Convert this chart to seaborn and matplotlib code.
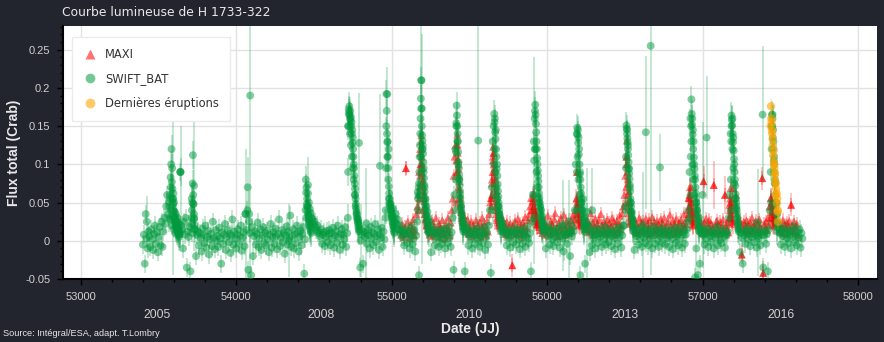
import numpy as np
import pandas as pd
import matplotlib
matplotlib.use("Agg")
import matplotlib.pyplot as plt
import seaborn as sns
from matplotlib.lines import Line2D
from matplotlib.ticker import MultipleLocator, FuncFormatter

# ---------------------------------------------------------------- data
# fluxes in mCrab (1 Crab = 1000 mCrab), dates in MJD
CADENCE = 6          # days between two monitoring samples
OB_STEP = 2          # days between two samples during an outburst

swift_base_start = 53400
swift_base_mcrab = [
    -5, 8, -30, 35, 3, -10, 12, 6, -8, 15, 2, -12, 9, 20, -4, 11, -15, 5, 18, -6,
    25, -8, 12, 30, 22, 45, 60, 35, 50, 28, 40, 20, 32, 15, 25, 10, 18, 30, 12, 22,
    90, 20, 15, -10, 25, 8, 30, -35, 12, 5, 18, -40, 22, 10, 48, 30, 15, -20, 8, 12,
    -6, 10, 4, -14, 16, 7, -3, 20, -9, 5, 13, -18, 2, 9, -7, 25, 4, -11, 14, 0,
    6, -8, 17, 3, -30, 11, -4, 8, 22, -12, 5, 14, -2, 9, -16, 7, 28, -5, 12, 3,
    -10, 8, 15, -4, 6, 20, -13, 4, 11, -7, 35, 14, 40, -38, 25, 10, -45, 18, -20, 6,
    12, -5, 9, 24, -8, 3, 15, -12, 7, 18, -3, 10, -6, 13, 2, -15, 8, 22, -9, 5,
    11, -4, 16, 6, -11, 9, 28, -7, 4, 14, -2, 10, -17, 7, 19, -5, 12, 3, 33, -8,
    6, 15, -10, 8, -3, 20, 11, -14, 5, 13, -6, 9, 18, -43, 2, 30, 45, 62, 50, 42,
    36, 30, 28, 22, 25, 18, 14, 20, 10, 12, 6, 15, -4, 8, 11, -7, 5, 13, -2, 9,
    14, -6, 10, 3, 17, -9, 7, 12, -3, 20, 5, -12, 9, 15, -5, 8, 2, 18, -8, 10,
    150, 165, 140, 125, 110, 95, 80, 60, 45, 35, 30, 25, 20, -35, 15, 8, -30, 12, 5, 10,
    -4, 14, 7, -10, 18, 3, 11, -6, 9, 22, -2, 6, 15, -12, 8, 4, 17, -8, 12, 2,
    30, 150, 110, 80, 55, 48, 40, 35, 42, 30, 25, 35, 22, 28, 15, 20, 10, 14, 5, 12,
    -6, 9, 15, -3, 8, 12, -10, 6, 18, -5, 3, 14, -14, 7, 25, 40, -45, 60, 110, 150,
    120, 90, 70, 55, 45, 38, 30, 25, 20, -15, 12, 8, 15, -6, 10, 3, 12, -8, 6, 14,
    -4, 9, 2, 16, -10, 7, 12, -3, 18, 5, -8, 11, 30, -38, 60, 120, 150, 130, 100, 80,
    60, 45, 35, 28, 22, -40, 15, 10, 18, -6, 8, 12, 3, -10, 9, 14, -4, 7, 16, 2,
    10, -8, 6, 13, -3, 9, 18, -12, 5, 11, -5, 20, 40, -42, 70, 130, 150, 120, 90, 70,
    55, 45, 35, 30, 25, 18, 22, 12, 15, 8, -6, 10, 4, 14, -9, 7, 12, -2, 9, 16,
    -5, 8, 13, 2, -11, 9, 15, -4, 7, 11, -8, 6, 18, 3, -3, 10, -40, 25, 60, 130,
    160, 120, 90, 70, 55, 50, 45, 40, 32, 25, 20, 15, -10, 12, 6, 18, -5, 9, 14, 2,
    -7, 11, 5, 16, -2, 8, 13, -9, 6, 20, 3, -14, 10, 7, 15, -4, 9, 25, -20, 12,
    6, 18, 12, 40, 100, 140, 110, 80, 60, -45, 50, 40, 55, 30, -30, 25, 38, 20, 12, -15,
    15, -6, 8, 3, 12, -10, 7, 16, -3, 9, 5, 13, -8, 10, 2, 18, -5, 7, 11, -2,
    9, 14, -7, 6, 12, 3, -11, 8, 17, -4, 10, 5, 15, -9, 7, 20, 20, 45, 110, 145,
    125, 95, 70, 50, 38, 28, 20, -12, 10, 6, 14, -5, 9, 2, 16, -8, 11, 4, 13, -3,
    8, 15, -6, 10, 3, 12, -10, 7, 18, -4, 9, 14, 1, -8, 11, 6, 16, -3, 8, 12,
    -5, 10, 4, 15, -8, 7, 12, 2, -11, 9, 17, -3, 6, 13, -6, 10, 3, 18, -9, 8,
    12, -4, 8, 15, 25, 40, 90, 160, 130, 100, 80, 60, -48, 50, 40, -45, 30, -30, 15, 10,
    8, 14, -5, 9, 3, 16, -8, 11, 6, -2, 13, 7, -10, 10, 4, 18, -6, 9, 12, 1,
    -3, 10, 15, 5, -9, 8, 8, 12, 30, 60, 140, 150, 120, 95, 75, 55, 42, 30, 22, 15,
    -15, 10, 4, -30, 13, 7, -4, 11, 16, 2, 9, -7, 12, 5, 15, -2, 8, 14, -9, 6,
    3, 10, -6, 14, 8, -35, 7, 12, -4, 9, -40, 15, 40, 90, 150, 165, 130, 100, 75, 50,
    35, 22, 15, 10, -5, 12, 6, 16, -8, 9, 3, 14, -3, 11, 7, -10, 13, 5, 18, -2,
    8, -6, 12, 4, 15, -9, 10, 3,
]

maxi_base_start = 55056
maxi_base_mcrab = [
    15, 8, 22, 12, 5, 18, 95, 10, 25, 14, 3, 20, 9, 16, 28, 7, 13, 35, 45, 60,
    90, 120, 100, 75, 55, 42, 35, 28, 20, 15, 24, 8, 17, 11, 26, 6, 19, 13, 30, 10,
    14, 22, 5, 18, 12, 27, 9, 16, 3, 21, 11, 30, 15, 7, 24, 40, 55, 85, 110, 125,
    105, 90, 70, 55, 45, 38, 30, 25, 33, 18, 22, 12, 28, 9, 17, 14, 25, 6, 20, 11,
    16, 27, 8, 19, 13, 24, 5, 18, 30, 10, 21, 14, 7, 26, 12, 35, 50, 56, 80, 105,
    115, 95, 80, 65, 50, 40, 33, 26, 20, 30, 14, 22, 9, 18, 25, 11, 16, 7, 23, 13,
    -32, 20, 12, 26, 8, 17, 29, 10, 22, 15, 5, 24, 13, 19, 31, 9, 16, 27, 35, 45,
    56, 40, 52, 45, 38, 30, 34, 22, 26, 18, 14, 28, 10, 20, 15, 24, 8, 19, 33, 12,
    17, 25, 9, 21, 14, 28, 36, 11, 18, 6, 23, 15, 30, 12, 20, 34, 8, 16, 26, 13,
    22, 10, 18, 27, 14, 33, 20, 28, 40, 56, 90, 48, 40, 35, 30, 25, 20, 28, 15, 22,
    18, 26, 11, 21, 36, 14, 24, 8, 19, 29, 13, 22, 16, 27, 10, 35, 20, 15, 25, 12,
    21, 9, 28, 16, 23, 11, 19, 30, 14, 25, 8, 17, 26, 12, 22, 33, 15, 20, 36, 45,
    60, 85, 110, 100, 80, 65, 50, 40, 32, 26, 20, 28, 14, 22, 10, 18, 30, 12, 24, 16,
    25, 13, 19, 29, 10, 22, 16, 27, 8, 20, 31, 14, 24, 11, 18, 26, 15, 21, 9, 28,
    17, 23, 12, 30, 15, 20, 8, 25, 14, 34, 19, 11, 26, 16, 22, 9, 29, 13, 18, 24,
    12, 27, 15, 21, 35, 18, 22, 30, 40, 56, 45, 60, 70, 50, 42, 35, 30, 38, 25, 20,
    22, 14, 26, 18, 10, 78, 24, 16, 29, 12, 20, 27, 15, 23, 11, 17, 73, 13, 21, 26,
    14, 22, 9, 25, 18, 12, 28, 16, 60, 20, 15, 24, 11, 30, 35, 47, 55, 69, 50, 40,
    60, 26, 20, 28, 15, 22, -18, 17, 25, 12, 19, 27, 14, 21, 10, 24, 16, 30, 13, 20,
    18, 26, 11, 23, 15, 28, 19, 12, 82, -42, 22, 16, 25, 14, 30, 20, 45, 56, 50, 38,
    45, 35, 30, 28, 25, 20, 15, 22, 12, 18, 27, 10, 21, 16, 24, 9, 19, 26, 14, 47,
    20, 13, 25, 11, 18, 22, 8,
]

# outbursts, densely sampled (one list per outburst)
swift_ob_start = [53570, 53712, 54446, 54718, 54962, 55168, 55410,
                  55654, 55916, 56190, 56506, 56920, 57180, 57442]
swift_ob_mcrab = [
    [30, 45, 60, 55, 83, 70, 100, 120, 77, 95, 68, 55, 48, 62, 40, 50, 30, 38, 25,
     30, 20, 35, 18, 25, 15, 20, 12, 18, 10, 15, 8, 12, 5, 10, 8, 12, 90],
    [30, 55, 40, 50, 75, 112, 60, 48, 35, 28, 20, 15],
    [40, 80, 63, 70, 48, 55, 40, 45, 35, 30, 33, 25, 28, 20, 22, 15, 18, 12, 10],
    [30, 90, 150, 172, 168, 176, 165, 160, 170, 158, 162, 150, 155, 140, 145, 128,
     135, 120, 110, 100, 95, 85, 75, 68, 60, 55, 48, 42, 38, 35, 30, 28, 25, 22, 18, 15, 12],
    [40, 95, 192, 170, 140, 129, 130, 110, 95, 120, 71, 62, 49, 55, 45, 40, 48, 35,
     42, 30, 32, 25, 28, 20, 22, 15, 18, 12, 10],
    [64, 55, 60, 70, 75, 90, 110, 125, 140, 160, 186, 173, 210, 173, 138, 131, 125,
     114, 103, 95, 82, 73, 64, 55, 50, 45, 40, 35, 32, 28, 25, 22, 18, 15, 12, 10],
    [40, 80, 116, 154, 177, 164, 150, 140, 130, 116, 103, 95, 86, 80, 73, 65, 56,
     50, 45, 40, 35, 30, 25, 22, 18, 15, 12],
    [40, 60, 100, 166, 155, 160, 142, 133, 145, 120, 110, 94, 100, 85, 74, 65, 58,
     50, 45, 40, 35, 30, 25, 22, 18, 15, 12],
    [30, 60, 120, 170, 178, 165, 153, 142, 130, 120, 108, 100, 92, 85, 78, 70, 62,
     56, 50, 45, 40, 36, 32, 28, 25, 22, 18, 15, 12],
    [40, 90, 148, 139, 145, 128, 135, 113, 120, 100, 87, 90, 80, 70, 62, 55, 50,
     45, 40, 35, 30, 26, 22, 18, 15, 12],
    [40, 95, 151, 147, 140, 134, 129, 120, 112, 103, 94, 88, 81, 73, 65, 55, 50,
     45, 38, 35, 30, 26, 22, 18, 15, 12],
    [30, 60, 110, 150, 185, 166, 152, 160, 139, 145, 120, 130, 109, 100, 94, 85,
     80, 70, 62, 55, 50, 45, 40, 35, 30, 25, 22, 18, 15, 12],
    [40, 80, 130, 164, 158, 151, 160, 140, 129, 135, 118, 107, 100, 90, 80, 72, 61,
     55, 50, 45, 40, 35, 30, 25, 20, 15, 12],
    [50, 120, 165, 150, 160, 135, 145, 120, 105, 110, 90, 75, 80, 60, 45, 50, 35, 25, 18, 12],
]

maxi_ob_start = [55176, 55416, 55640, 55906, 56186, 56506, 56910, 57170, 57436]
maxi_ob_mcrab = [
    [40, 56, 70, 85, 100, 115, 130, 138, 120, 110, 100, 95, 88, 80, 72, 65, 60, 52,
     45, 40, 35, 30, 28, 25, 22, 20],
    [50, 90, 125, 139, 126, 115, 107, 100, 94, 85, 78, 68, 60, 55, 48, 42, 38, 33, 30, 27, 24, 20],
    [45, 56, 60, 75, 90, 110, 123, 115, 100, 90, 84, 75, 68, 60, 52, 45, 40, 35, 30, 27, 24, 20],
    [30, 40, 56, 50, 62, 45, 55, 40, 38, 35, 30, 28, 25, 22, 20],
    [35, 55, 90, 50, 45, 48, 40, 35, 30, 28, 25, 22, 20],
    [50, 70, 100, 131, 110, 90, 75, 60, 50, 42, 36, 30, 25, 22],
    [35, 56, 60, 45, 70, 55, 50, 42, 38, 35, 30, 28, 25, 22, 20],
    [30, 47, 40, 55, 50, 69, 45, 40, 35, 30, 28, 25, 22],
    [30, 45, 56, 50, 38, 45, 35, 30, 28, 25, 22, 20],
]

# latest outburst (highlighted)
latest_start = 57438
latest_mcrab = [150, 176, 160, 155, 144, 140, 133, 125, 112, 118, 103, 100, 95, 86,
                88, 77, 75, 68, 60, 62, 49, 55, 38, 40, 25]

# isolated points with large uncertainties
swift_out_mjd = [53425, 53595, 53642, 53729, 54060, 54074, 54084, 54090, 54340,
                 54462, 54790, 54800, 54838, 54925, 54972, 55190, 55196, 55557,
                 55917, 56102, 56140, 56255, 56290, 56615, 56635, 56666, 56726,
                 56960, 57000, 57026, 57354, 57386]
swift_out_mcrab = [25, 55, 90, 72, 35, 70, 35, 190, 0, 73, 128, 0, 23, 98, 192, 210,
                   120, 131, 105, 20, 10, 20, 40, 20, 142, 255, 96, -10, 60, 135, 24, 165]
swift_out_err = [33, 100, 60, 86, 85, 40, 30, 240, 48, 36, 65, 48, 72, 94, 35, 120,
                 150, 150, 135, 60, 70, 75, 55, 70, 100, 300, 44, 60, 95, 80, 70, 90]

maxi_out_mjd = [55092, 55776, 57006, 57072, 57144, 57252, 57384, 57390, 57570]
maxi_out_mcrab = [95, -32, 78, 73, 60, -18, 82, -42, 47]
maxi_out_err = [10, 15, 20, 32, 25, 12, 15, 15, 15]

swift_err_mcrab = 12
maxi_err_mcrab = 9
ob_err_mcrab = 18
latest_err_mcrab = 10

x_ticks = [53000, 54000, 55000, 56000, 57000, 58000]
year_labels = ["2005", "2008", "2010", "2013", "2016"]
year_mjd = [53488, 54549, 55500, 56503, 57505]

# ---------------------------------------------------------------- tables
def series(start, step, vals, err, name):
    v = np.asarray(vals, dtype=float)
    return pd.DataFrame({"mjd": start + step * np.arange(len(v)),
                         "flux": v / 1000.0, "err": err / 1000.0, "src": name})

parts = [series(swift_base_start, CADENCE, swift_base_mcrab, swift_err_mcrab, "SWIFT_BAT")]
for s, v in zip(swift_ob_start, swift_ob_mcrab):
    parts.append(series(s, OB_STEP, v, ob_err_mcrab, "SWIFT_BAT"))
parts.append(pd.DataFrame({"mjd": swift_out_mjd, "flux": np.array(swift_out_mcrab) / 1000.0,
                           "err": np.array(swift_out_err) / 1000.0, "src": "SWIFT_BAT"}))
swift = pd.concat(parts, ignore_index=True)

parts = [series(maxi_base_start, CADENCE, maxi_base_mcrab, maxi_err_mcrab, "MAXI")]
for s, v in zip(maxi_ob_start, maxi_ob_mcrab):
    parts.append(series(s, OB_STEP, v, ob_err_mcrab * 0.7, "MAXI"))
parts.append(pd.DataFrame({"mjd": maxi_out_mjd, "flux": np.array(maxi_out_mcrab) / 1000.0,
                           "err": np.array(maxi_out_err) / 1000.0, "src": "MAXI"}))
maxi = pd.concat(parts, ignore_index=True)

latest = series(latest_start, OB_STEP, latest_mcrab, latest_err_mcrab, "Dernières éruptions")

# ---------------------------------------------------------------- style
BG = "#23252e"
GREEN = "#009a3e"
RED = "#ff0000"
ORANGE = "#ffa500"
TXT = "#d0d0d0"

sns.set_theme(style="white")
plt.rcParams["font.family"] = ["DejaVu Sans"]
plt.rcParams["axes.unicode_minus"] = False

fig = plt.figure(figsize=(8.84, 3.42), dpi=100, facecolor=BG)
ax = fig.add_axes([0.0709, 0.1842, 0.9212, 0.7398])
ax.set_facecolor("white")
ax.set_axisbelow(True)
ax.grid(True, which="major", color="#e2e2e2", lw=1)

# MAXI first (underneath), then SWIFT, then the latest outburst
ax.errorbar(maxi["mjd"], maxi["flux"], yerr=maxi["err"], fmt="none",
            ecolor=RED, elinewidth=1.1, alpha=0.3, zorder=2)
sns.scatterplot(data=maxi, x="mjd", y="flux", ax=ax, color=RED, alpha=0.5,
                s=32, marker="^", edgecolor="none", legend=False, zorder=3)

ax.errorbar(swift["mjd"], swift["flux"], yerr=swift["err"], fmt="none",
            ecolor=GREEN, elinewidth=1.1, alpha=0.3, zorder=4)
sns.scatterplot(data=swift, x="mjd", y="flux", ax=ax, color=GREEN, alpha=0.5,
                s=32, edgecolor="none", legend=False, zorder=5)

ax.errorbar(latest["mjd"], latest["flux"], yerr=latest["err"], fmt="none",
            ecolor=ORANGE, elinewidth=1.1, alpha=0.3, zorder=6)
sns.scatterplot(data=latest, x="mjd", y="flux", ax=ax, color=ORANGE, alpha=0.6,
                s=36, edgecolor="none", legend=False, zorder=7)

ax.set_xlim(52884, 58122)
ax.set_ylim(-0.05, 0.281)
ax.set_xlabel("")
ax.set_ylabel("")

ax.xaxis.set_major_locator(plt.FixedLocator(x_ticks))
ax.xaxis.set_minor_locator(MultipleLocator(200))
ax.yaxis.set_major_locator(MultipleLocator(0.05))
ax.yaxis.set_minor_locator(MultipleLocator(0.01))
ax.yaxis.set_major_formatter(FuncFormatter(lambda v, p: f"{round(v, 2):g}"))
ax.xaxis.set_major_formatter(FuncFormatter(lambda v, p: f"{int(v)}"))

for sp in ["top", "right"]:
    ax.spines[sp].set_visible(False)
for sp in ["left", "bottom"]:
    ax.spines[sp].set_color("black")
    ax.spines[sp].set_linewidth(1.5)

ax.tick_params(axis="both", which="major", direction="out", length=4, width=1,
               color="black", labelcolor=TXT, pad=5)
ax.tick_params(axis="both", which="minor", direction="out", length=2.5, width=1,
               color="black")
ax.tick_params(axis="x", which="both", bottom=True)
ax.tick_params(axis="y", which="both", left=True)
for lab in ax.get_xticklabels() + ax.get_yticklabels():
    lab.set_fontfamily("Liberation Sans")
    lab.set_fontsize(8)

secax = ax.secondary_xaxis(-0.12)
secax.set_xticks(year_mjd, labels=year_labels)
secax.tick_params(length=0, pad=0, labelcolor=TXT)
secax.spines["bottom"].set_visible(False)
for lab in secax.get_xticklabels():
    lab.set_fontfamily("Liberation Sans")
    lab.set_fontsize(8.7)

# legend
handles = [
    Line2D([], [], ls="none", marker="^", markersize=7, color=RED, alpha=0.55, mec="none"),
    Line2D([], [], ls="none", marker="o", markersize=7, color=GREEN, alpha=0.55, mec="none"),
    Line2D([], [], ls="none", marker="o", markersize=7, color=ORANGE, alpha=0.6, mec="none"),
]
leg = ax.legend(handles, ["MAXI", "SWIFT_BAT", "Dernières éruptions"],
                loc="upper left", bbox_to_anchor=(0.0114, 0.9565), borderaxespad=0,
                frameon=True, fancybox=False, framealpha=1, facecolor="white",
                edgecolor="#ebebeb", fontsize=8.3, labelcolor="#333333",
                handletextpad=0.7, labelspacing=1.0, borderpad=0.95, handlelength=1.2)
leg.get_frame().set_linewidth(1)
leg.set_zorder(10)

# texts
fig.text(0.0705, 0.962, "Courbe lumineuse de H 1733-322", color="#e8e8e8",
         fontsize=8.9, va="center", ha="left")
fig.text(0.5315, 0.038, "Date (JJ)", color="#e8e8e8", fontsize=10,
         fontweight="bold", family="Liberation Sans", va="center", ha="center")
fig.text(0.016, 0.554, "Flux total (Crab)", color="#e8e8e8", fontsize=10,
         fontweight="bold", family="Liberation Sans", va="center", ha="center",
         rotation=90)
fig.text(0.0035, 0.026, "Source: Intégral/ESA, adapt. T.Lombry", color="#e8e8e8",
         fontsize=6.6, family="Liberation Sans", va="center", ha="left")

fig.savefig("out.png", dpi=100, facecolor=BG)
